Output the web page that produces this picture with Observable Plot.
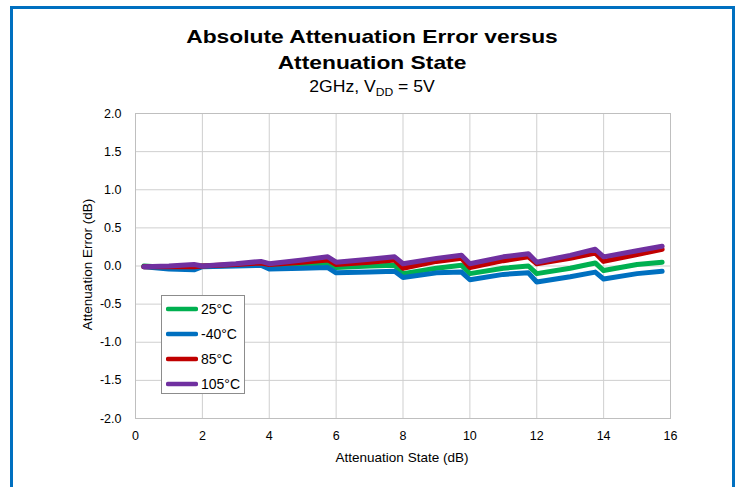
<!DOCTYPE html>
<html><head><meta charset="utf-8">
<script src="https://cdn.jsdelivr.net/npm/d3@7"></script>
<script src="https://cdn.jsdelivr.net/npm/@observablehq/plot@0.6"></script>
<style>
body{margin:0;background:#fff;font-family:"Liberation Sans",Arial,sans-serif;}
#wrap{position:relative;width:740px;height:487px;overflow:hidden;background:#fff;}
.border{position:absolute;background:#0070C0;}
.t{position:absolute;left:2px;width:740px;text-align:center;color:#000;white-space:nowrap;}
#legend{position:absolute;left:161px;top:295px;width:84px;height:99px;border:1px solid #8c8c8c;background:#fff;box-sizing:border-box;}
.li{position:absolute;left:4px;height:20px;display:flex;align-items:center;font-size:14px;color:#000;}
.li svg{margin-right:3px;}
.axlab{position:absolute;font-size:13.5px;color:#000;white-space:nowrap;}
</style></head><body>
<div id="wrap">
  <div class="border" style="left:10px;top:6px;width:3px;height:481px"></div>
  <div class="border" style="left:10px;top:6px;width:725px;height:3px"></div>
  <div class="border" style="left:732px;top:6px;width:3px;height:481px"></div>
  <div class="t" style="top:26px;font-weight:bold;font-size:19px;transform:scaleX(1.2)">Absolute Attenuation Error versus</div>
  <div class="t" style="top:52px;font-weight:bold;font-size:19px;transform:scaleX(1.2)">Attenuation State</div>
  <div class="t" style="top:78px;font-size:16px;transform:scaleX(1.1)">2GHz, V<sub style="font-size:11px;vertical-align:-4px">DD</sub> = 5V</div>
  <div id="chart" style="position:absolute;left:0;top:100px"></div>
  <div class="axlab" id="xlab" style="left:302px;width:200px;text-align:center;top:450px">Attenuation State (dB)</div>
  <div class="axlab" id="ylab" style="left:-13px;width:200px;text-align:center;top:257px;transform:rotate(-90deg)">Attenuation Error (dB)</div>
  <div id="legend"></div>
</div>
<script>
// Attenuation states (dB) at which values were read
const states = [0.25, 1, 1.75, 2, 3, 3.75, 4, 5, 5.75, 6, 7, 7.75, 8, 9, 9.75, 10, 11, 11.75, 12, 13, 13.75, 14, 15, 15.75];
// Series values (dB error)
const err25 = [0.0, -0.02, -0.03, 0.0, 0.01, 0.03, 0.0, 0.02, 0.04, -0.02, 0.0, 0.01, -0.1, -0.03, 0.01, -0.1, -0.03, 0.0, -0.1, -0.03, 0.04, -0.06, 0.02, 0.05];
const errM40 = [-0.01, -0.04, -0.05, -0.01, 0.0, 0.01, -0.04, -0.03, -0.02, -0.09, -0.08, -0.07, -0.15, -0.09, -0.08, -0.18, -0.11, -0.09, -0.21, -0.14, -0.08, -0.17, -0.1, -0.07];
const err85 = [-0.01, -0.01, -0.01, 0.0, 0.02, 0.04, 0.02, 0.05, 0.08, 0.02, 0.05, 0.08, -0.03, 0.06, 0.1, -0.02, 0.07, 0.12, 0.03, 0.1, 0.17, 0.06, 0.15, 0.22];
const err105 = [-0.01, 0.0, 0.02, 0.0, 0.03, 0.06, 0.03, 0.08, 0.12, 0.05, 0.09, 0.12, 0.03, 0.1, 0.14, 0.03, 0.12, 0.16, 0.05, 0.14, 0.22, 0.12, 0.2, 0.26];
const seriesNames = ["25°C", "-40°C", "85°C", "105°C"];
const seriesColors = ["#00B050", "#0070C0", "#C00000", "#7030A0"];
const xTicks = [0, 2, 4, 6, 8, 10, 12, 14, 16];
const yTicks = [-2, -1.5, -1, -0.5, 0, 0.5, 1, 1.5, 2];

const seriesValues = [err25, errM40, err85, err105];
const data = [];
seriesValues.forEach((vals, i) => {
  states.forEach((s, j) => data.push({state: s, err: vals[j], series: seriesNames[i]}));
});

const chart = Plot.plot({
  width: 740,
  height: 387,
  marginLeft: 135,
  marginRight: 70,
  marginTop: 13,
  marginBottom: 69,
  style: {fontFamily: "'Liberation Sans', Arial, sans-serif", fontSize: "12.5px", color: "#000", background: "transparent"},
  x: {domain: [0, 16]},
  y: {domain: [-2, 2]},
  color: {domain: seriesNames, range: seriesColors},
  marks: [
    Plot.gridX(xTicks, {stroke: "#cfcfcf", strokeOpacity: 1}),
    Plot.gridY(yTicks, {stroke: "#cfcfcf", strokeOpacity: 1}),
    Plot.frame({stroke: "#bfbfbf"}),
    Plot.line(data, {x: "state", y: "err", z: "series", stroke: "series", strokeWidth: 5, strokeLinejoin: "round", strokeLinecap: "round"}),
    Plot.axisX(xTicks, {tickSize: 0, tickPadding: 13, tickFormat: d => String(d), label: null, fontSize: 12.5}),
    Plot.axisY(yTicks, {tickSize: 0, tickPadding: 14, tickFormat: d => d.toFixed(1), label: null, fontSize: 12.5})
  ]
});
document.getElementById("chart").appendChild(chart);

const legend = document.getElementById("legend");
seriesNames.forEach((name, i) => {
  const row = document.createElement("div");
  row.className = "li";
  row.style.top = (3 + i * 25) + "px";
  row.innerHTML = `<svg width="32" height="8"><line x1="2" y1="4" x2="30" y2="4" stroke="${seriesColors[i]}" stroke-width="4.5" stroke-linecap="round"/></svg><span>${name}</span>`;
  legend.appendChild(row);
});
</script>
</body></html>
